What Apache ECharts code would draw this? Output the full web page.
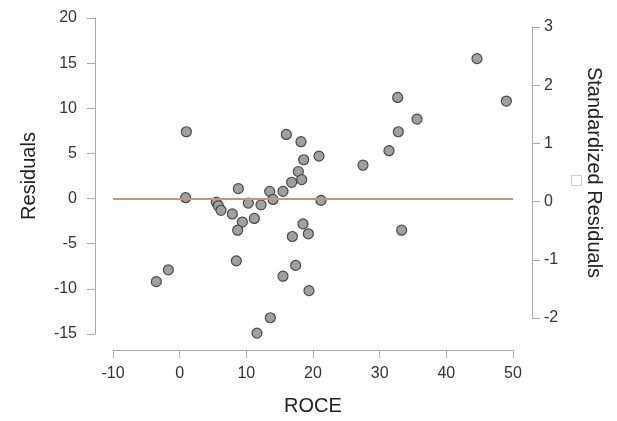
<!DOCTYPE html>
<html>
<head>
<meta charset="utf-8">
<script src="https://cdn.jsdelivr.net/npm/echarts@6/dist/echarts.min.js"></script>
<style>
  html, body { margin: 0; padding: 0; background: #fff; }
  #chart { width: 617px; height: 421px; }
</style>
</head>
<body>
<div id="chart"></div>
<script>
// ROCE vs residuals
const roce = [1.0, 0.9, 16.0, 18.2, 20.9, 18.6, 17.8, 18.3, 16.8, 15.5, 13.5, 14.0, 8.8, 21.2,
  5.5, 5.8, 6.2, 10.3, 12.2, 7.9, 9.4, 11.2, 8.7, 18.5, 19.3, 16.9, 8.5, 17.4, 15.5,
  -1.7, -3.5, 19.4, 13.6, 11.6, 44.6, 49.0, 32.7, 35.6, 32.8, 31.4, 27.5, 33.3];
const residuals = [7.4, 0.1, 7.1, 6.3, 4.7, 4.3, 3.0, 2.1, 1.8, 0.8, 0.8, -0.1, 1.1, -0.2,
  -0.4, -0.8, -1.3, -0.5, -0.7, -1.7, -2.6, -2.2, -3.5, -2.8, -3.9, -4.2, -6.9, -7.4, -8.6,
  -7.9, -9.2, -10.2, -13.2, -14.9, 15.5, 10.8, 11.2, 8.8, 7.4, 5.3, 3.7, -3.5];

// axis ticks [min, max, step]
const roceTicks = [-10, 50, 10];
const residTicks = [-15, 20, 5];
const stdTicks = [-2, 3, 1];

const points = roce.map((x, i) => [x, residuals[i]]);

const font = 'Liberation Sans, Arial, sans-serif';
const axisGrey = '#a8a8a8';
const labelStyle = { color: '#333', fontSize: 16, fontFamily: font };
const nameStyle = { color: '#222', fontSize: 20, fontFamily: font };

const chart = echarts.init(document.getElementById('chart'));
chart.setOption({
  animation: false,
  title: {
    text: '\u25A1',
    left: 565, top: 168,
    textStyle: { color: '#c4c4c4', fontSize: 14, fontWeight: 'normal', fontFamily: 'DejaVu Sans' }
  },
  grid: [
    { left: 113, width: 400, top: 18, height: 320 },
    { left: 113, width: 400, top: 27, height: 291 }
  ],
  xAxis: [{
    gridIndex: 0, type: 'value',
    min: roceTicks[0], max: roceTicks[1], interval: roceTicks[2],
    offset: 16,
    name: 'ROCE', nameLocation: 'middle', nameGap: 46, nameTextStyle: nameStyle,
    axisLine: { onZero: false, lineStyle: { color: axisGrey, width: 1 } },
    axisTick: { length: 8, lineStyle: { color: axisGrey } },
    axisLabel: Object.assign({ margin: 16 }, labelStyle),
    splitLine: { show: false }
  }, {
    gridIndex: 1, type: 'value', show: false, min: 0, max: 1
  }],
  yAxis: [{
    gridIndex: 0, type: 'value', position: 'left',
    min: residTicks[0], max: residTicks[1], interval: residTicks[2],
    offset: 18,
    name: 'Residuals', nameLocation: 'middle', nameGap: 56, nameTextStyle: nameStyle,
    axisLine: { show: true, onZero: false, lineStyle: { color: axisGrey, width: 1 } },
    axisTick: { show: true, length: 8, lineStyle: { color: axisGrey } },
    axisLabel: Object.assign({ margin: 18 }, labelStyle),
    splitLine: { show: false }
  }, {
    gridIndex: 1, type: 'value', position: 'right',
    min: stdTicks[0], max: stdTicks[1], interval: stdTicks[2],
    offset: 19,
    name: 'Standardized Residuals', nameLocation: 'middle', nameRotate: -90, nameGap: 52,
    nameTextStyle: nameStyle,
    axisLine: { show: true, onZero: false, lineStyle: { color: axisGrey, width: 1 } },
    axisTick: { show: true, length: 8, lineStyle: { color: axisGrey } },
    axisLabel: Object.assign({ margin: 12 }, labelStyle),
    splitLine: { show: false }
  }],
  series: [{
    type: 'scatter',
    xAxisIndex: 0, yAxisIndex: 0,
    data: points,
    symbolSize: 10,
    itemStyle: { color: '#a0a0a0', borderColor: '#484848', borderWidth: 1.2, opacity: 1 },
    markLine: {
      silent: true,
      symbol: 'none',
      label: { show: false },
      lineStyle: { color: '#c99090', width: 2, type: 'solid' },
      data: [{ yAxis: 0 }]
    }
  }]
});
</script>
</body>
</html>
